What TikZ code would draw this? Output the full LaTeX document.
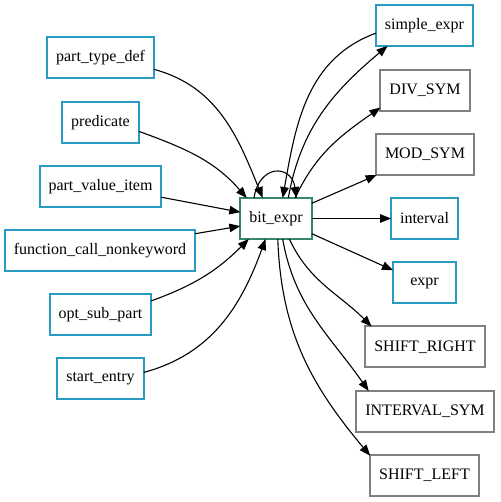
\documentclass[tikz,border=0pt]{standalone}
\usepackage{fontspec}
\setmainfont{Liberation Serif}
\usetikzlibrary{arrows.meta}
\definecolor{bblue}{RGB}{42,155,194}
\definecolor{bgreen}{RGB}{52,135,104}
\definecolor{bgrey}{RGB}{128,128,128}
\tikzset{
  box/.style={draw, rectangle, line width=2pt, fill=white, inner xsep=9pt, inner ysep=0pt,
    minimum width=63pt, minimum height=41pt, outer sep=0pt,
    font=\fontsize{16}{19}\selectfont},
  bluebox/.style={box, draw=bblue},
  greybox/.style={box, draw=bgrey},
  greenbox/.style={box, draw=bgreen},
  arr/.style={line width=1.1pt, -{Triangle[length=11pt,width=8.5pt]}}
}
\begin{document}
\begin{tikzpicture}[x=1pt,y=1pt]
\useasboundingbox (0,0) rectangle (500,502);
% left column
\node[bluebox] (ptd)  at (100.5,444)   {part\_type\_def};
\node[bluebox] (pred) at (100.5,379.5) {predicate};
\node[bluebox] (pvi)  at (100.5,315.5) {part\_value\_item};
\node[bluebox] (fcn)  at (100,251.5)   {function\_call\_nonkeyword};
\node[bluebox] (osp)  at (100.5,187.5) {opt\_sub\_part};
\node[bluebox] (se)   at (100.5,123.5) {start\_entry};
% centre
\node[greenbox] (be) at (276,283.5) {bit\_expr};
% right column
\node[bluebox] (sx)  at (424.5,476.5) {simple\_expr};
\node[greybox] (div) at (425,411.5)   {DIV\_SYM};
\node[greybox] (mod) at (425,347.5)   {MOD\_SYM};
\node[bluebox] (int) at (424.5,283.5) {interval};
\node[bluebox] (ex)  at (424.5,219)   {expr};
\node[greybox] (sr)  at (425,155)     {SHIFT\_RIGHT};
\node[greybox] (is)  at (425,90.5)    {INTERVAL\_SYM};
\node[greybox] (sl)  at (424.5,26.5)  {SHIFT\_LEFT};
% incoming
\draw[arr] (ptd.-12) to[out=-15,in=112] (be.123);
\draw[arr] (pred.-13) to[out=-20,in=131] (be.145);
\draw[arr] (pvi.-10) -- (be.170);
\draw[arr] (fcn.10) -- (be.192);
\draw[arr] (osp.15) to[out=20,in=225] (be.217);
\draw[arr] (se.8) to[out=15,in=250] (be.243);
\draw[arr] (sx.189) to[out=200,in=80] (be.72);
% self loop
\draw[arr] (be.137) .. controls +(5,34) and +(-5,34) .. (be.45);
% outgoing
\draw[arr] (be.59) to[out=80,in=220] (sx.209);
\draw[arr] (be.47) to[out=65,in=215] (div.201);
\draw[arr] (be.23) -- (mod.203);
\draw[arr] (be.east) -- (int.west);
\draw[arr] (be.-23) -- (ex.158);
\draw[arr] (be.-57) to[out=-65,in=135] (sr.159);
\draw[arr] (be.-72) to[out=-80,in=125] (is.160);
\draw[arr] (be.-85) to[out=-88,in=130] (sl.160);
\end{tikzpicture}
\end{document}
